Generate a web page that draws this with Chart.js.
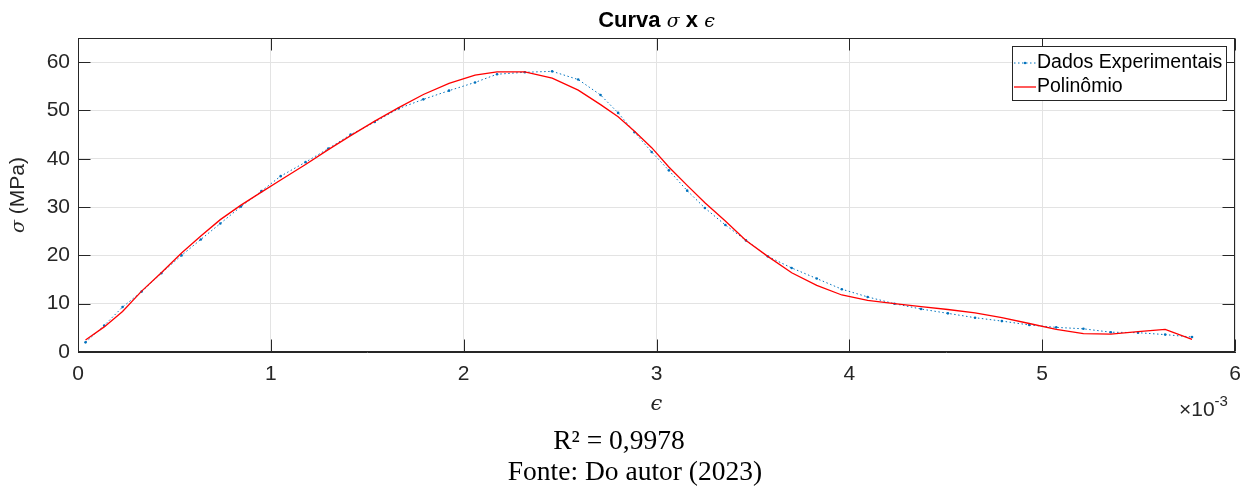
<!DOCTYPE html>
<html><head><meta charset="utf-8">
<script src="https://cdn.jsdelivr.net/npm/chart.js@4.4.1/dist/chart.umd.min.js"></script>
<style>
html,body{margin:0;padding:0;background:#fff;width:1243px;height:496px;overflow:hidden;}
#wrap{position:relative;width:1243px;height:496px;}
#c{position:absolute;left:0;top:0;}
.t{position:absolute;white-space:nowrap;color:#000;}
#title{left:78px;width:1157px;top:8px;text-align:center;font:bold 22px "Liberation Sans",Arial,sans-serif;line-height:24px;}
#title .m{font:italic normal 19px "DejaVu Serif",serif;}
#r2{left:519px;width:200px;top:424px;text-align:center;font:27.5px "Liberation Serif","Times New Roman",serif;line-height:32px;}
#fonte{left:435px;width:400px;top:455px;text-align:center;font:27.5px "Liberation Serif","Times New Roman",serif;line-height:32px;}
</style></head>
<body><div id="wrap">
<canvas id="c" width="1243" height="496"></canvas>
<div class="t" id="title">Curva <span class="m">σ</span> x <span class="m">ϵ</span></div>
<div class="t" id="r2">R² = 0,9978</div>
<div class="t" id="fonte">Fonte: Do autor (2023)</div>
</div>
<script>
// strain values (×10^-3)
const strain = [0.039,0.136,0.231,0.330,0.432,0.537,0.637,0.738,0.845,0.951,1.051,1.180,1.298,1.414,1.539,1.663,1.791,1.924,2.059,2.173,2.317,2.459,2.594,2.710,2.801,2.886,2.975,3.064,3.159,3.251,3.357,3.464,3.577,3.701,3.831,3.961,4.095,4.234,4.372,4.511,4.652,4.791,4.933,5.073,5.214,5.356,5.497,5.638,5.777];
// experimental stress (MPa)
const stressExp = [2.0,5.5,9.3,12.5,16.3,20.0,23.3,26.6,30.1,33.3,36.4,39.3,42.1,45.0,47.6,50.4,52.3,54.1,55.8,57.5,57.9,58.1,56.4,53.2,49.5,45.5,41.4,37.6,33.4,29.8,26.3,23.1,19.8,17.4,15.2,13.0,11.4,10.0,8.9,8.0,7.1,6.4,5.6,5.1,4.8,4.1,4.0,3.6,3.1];
// polynomial fit (MPa)
const stressPoly = [2.5,5.2,8.4,12.6,16.4,20.5,24.0,27.4,30.4,33.1,35.6,38.8,41.9,44.8,47.8,50.6,53.3,55.6,57.3,58.0,58.0,56.7,54.2,51.2,48.7,45.7,42.3,38.3,34.5,30.9,27.1,23.1,19.8,16.4,13.8,11.8,10.7,10.0,9.4,8.8,8.1,7.1,5.9,4.7,3.8,3.7,4.2,4.7,2.6];
const xTicks = [0,1,2,3,4,5,6];
const yTicks = [0,10,20,30,40,50,60];
const seriesNames = ['Dados Experimentais','Polinômio'];

const expPts = strain.map((x,i)=>({x:x,y:stressExp[i]}));
const polyPts = strain.map((x,i)=>({x:x,y:stressPoly[i]}));

const AX = '#262626';
const SANS = '"Liberation Sans", Arial, sans-serif';
const SERIF_M = '"DejaVu Serif", serif';

const decor = {
  id:'decor',
  afterDraw(chart){
    const {ctx, chartArea:a, scales:{x,y}} = chart;
    const L = Math.round(a.left)+0.5, R = Math.round(a.right)-0.5, T = Math.round(a.top)+0.5, B = Math.round(a.bottom)-0.5;
    ctx.save();
    ctx.strokeStyle = AX; ctx.lineWidth = 1;
    ctx.strokeRect(L, T, R-L, B-T);
    // inward ticks
    ctx.beginPath();
    xTicks.forEach(v=>{
      const p = Math.round(x.getPixelForValue(v))+0.5;
      ctx.moveTo(p,B); ctx.lineTo(p,B-12);
      ctx.moveTo(p,T); ctx.lineTo(p,T+12);
    });
    yTicks.forEach(v=>{
      const p = Math.round(y.getPixelForValue(v))+0.5;
      ctx.moveTo(L,p); ctx.lineTo(L+12,p);
      ctx.moveTo(R,p); ctx.lineTo(R-12,p);
    });
    ctx.stroke();
    // y axis title
    ctx.fillStyle = AX;
    ctx.save();
    ctx.translate(24, (a.top+a.bottom)/2);
    ctx.rotate(-Math.PI/2);
    ctx.textBaseline = 'alphabetic';
    ctx.font = 'italic 19px '+SERIF_M;
    const w1 = ctx.measureText('σ').width;
    ctx.font = '21px '+SANS;
    const w2 = ctx.measureText(' (MPa)').width;
    const sx = -(w1+w2)/2;
    ctx.font = 'italic 19px '+SERIF_M;
    ctx.textAlign='left';
    ctx.fillText('σ', sx, 0);
    ctx.font = '21px '+SANS;
    ctx.fillText(' (MPa)', sx+w1, 0);
    ctx.restore();
    // x axis title
    ctx.textAlign='center'; ctx.textBaseline='alphabetic';
    ctx.font = 'italic 21px '+SERIF_M;
    ctx.fillText('ϵ', (a.left+a.right)/2, 410);
    // exponent
    ctx.textAlign='left';
    ctx.font = '21px '+SANS;
    ctx.fillText('×10', 1179, 416);
    const we = ctx.measureText('×10').width;
    ctx.font = '15px '+SANS;
    ctx.fillText('-3', 1179+we, 406);
    // legend
    const lx=1012.5, ly=46.5, lw=214, lh=54;
    ctx.fillStyle='#fff'; ctx.fillRect(lx,ly,lw,lh);
    ctx.strokeStyle=AX; ctx.lineWidth=1; ctx.strokeRect(lx,ly,lw,lh);
    ctx.lineWidth=1; ctx.strokeStyle='#0072BD'; ctx.setLineDash([1.5,2.5]);
    ctx.beginPath(); ctx.moveTo(1014,63); ctx.lineTo(1036,63); ctx.stroke();
    ctx.setLineDash([]);
    ctx.fillStyle='#0072BD'; ctx.beginPath(); ctx.arc(1025,63,1.2,0,Math.PI*2); ctx.fill();
    ctx.strokeStyle='#FF0000'; ctx.lineWidth=1.3;
    ctx.beginPath(); ctx.moveTo(1014,87); ctx.lineTo(1036,87); ctx.stroke();
    ctx.fillStyle='#000'; ctx.font='19.5px '+SANS; ctx.textBaseline='middle';
    ctx.fillText(seriesNames[0], 1037, 63);
    ctx.fillText(seriesNames[1], 1037, 87);
    ctx.restore();
  }
};

new Chart(document.getElementById('c'), {
  type:'line',
  data:{datasets:[
    {label:seriesNames[1], data:polyPts, borderColor:'#FF0000', borderWidth:1.3, pointRadius:0, tension:0, fill:false, order:0},
    {label:seriesNames[0], data:expPts, borderColor:'#0072BD', borderWidth:1, borderDash:[1.5,2.5], pointRadius:1.3, pointBorderWidth:0, pointBackgroundColor:'#0072BD', tension:0, fill:false, order:1}
  ]},
  options:{
    responsive:false, animation:false, devicePixelRatio:1,
    layout:{padding:{left:0,top:38,right:8,bottom:0}},
    plugins:{legend:{display:false}, title:{display:false}, tooltip:{enabled:false}},
    scales:{
      x:{type:'linear', min:0, max:6, afterFit(s){s.height=144; s.paddingRight=0; s.paddingLeft=0;},
        ticks:{stepSize:1, includeBounds:false, maxRotation:0, autoSkip:false, padding:10, color:AX, font:{family:'Liberation Sans', size:21}},
        grid:{color:'#e3e3e3', drawTicks:false, lineWidth:1},
        border:{display:true, color:AX}},
      y:{type:'linear', min:0, max:65, afterFit(s){s.width=78; s.paddingTop=0; s.paddingBottom=0;},
        ticks:{stepSize:10, includeBounds:false, padding:8, color:AX, font:{family:'Liberation Sans', size:21}},
        grid:{color:'#e3e3e3', drawTicks:false, lineWidth:1},
        border:{display:true, color:AX}}
    }
  },
  plugins:[decor]
});
</script>
</body></html>
